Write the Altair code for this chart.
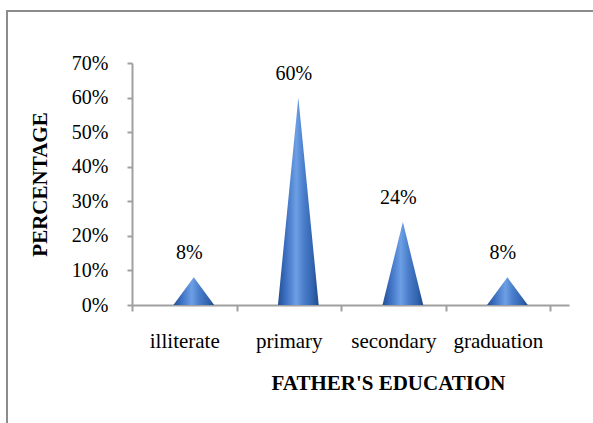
import altair as alt
import pandas as pd

# Father's education distribution
categories = ["illiterate", "primary", "secondary", "graduation"]
shares = [0.08, 0.60, 0.24, 0.08]

y_ticks = [0.0, 0.1, 0.2, 0.3, 0.4, 0.5, 0.6, 0.7]

# cone geometry in category units (one band = 1.0)
CONE_SHIFT = 0.091   # depth offset of the cone inside its band
CONE_HALF = 0.195    # half base width
LABEL_SHIFT = 0.048
X_MAX = 4.18         # axis line runs a little past the last band

cone_rows = []
for i, (cat, v) in enumerate(zip(categories, shares)):
    c = i + 0.5 + CONE_SHIFT
    cone_rows += [
        {"cat": cat, "x": c - CONE_HALF, "y": 0.0},
        {"cat": cat, "x": c, "y": v},
        {"cat": cat, "x": c + CONE_HALF, "y": 0.0},
    ]
cones = pd.DataFrame(cone_rows)

labels = pd.DataFrame({
    "cat": categories,
    "x": [i + 0.5 + LABEL_SHIFT for i in range(len(categories))],
    "share": shares,
})

FONT = "Liberation Serif"
GRAY = "#a0a0a0"

label_lookup = "[" + ",".join(f"'{c}'" for c in categories) + "]"

x_scale = alt.Scale(domain=[0, X_MAX], nice=False, zero=False)
y_scale = alt.Scale(domain=[0, 0.7], nice=False)

x_axis = alt.Axis(
    values=[k / 2 for k in range(0, 2 * len(categories) + 1)],
    labelExpr=f"datum.value % 1 == 0.5 ? {label_lookup}[floor(datum.value)] : ''",
    tickOpacity={"condition": {"test": "datum.value % 1 == 0", "value": 1}, "value": 0},
    grid=False,
    domainColor=GRAY, domainWidth=2,
    tickColor=GRAY, tickWidth=2, tickSize=6,
    labelFont=FONT, labelFontSize=21, labelColor="black",
    labelBaseline="alphabetic", labelPadding=36, labelFlush=False,
    labelOverlap=False,
    title="FATHER'S EDUCATION",
    titleFont=FONT, titleFontSize=21, titleFontWeight="bold", titleColor="black",
    titleX=256, titleY=84, titleAlign="center", titleBaseline="alphabetic",
)

y_axis = alt.Axis(
    values=y_ticks, format=".0%", grid=False,
    domainColor=GRAY, domainWidth=2,
    tickColor=GRAY, tickWidth=2, tickSize=5,
    labelFont=FONT, labelFontSize=20, labelColor="black", labelPadding=19,
    labelOverlap=False, labelFlush=False,
    title="PERCENTAGE",
    titleFont=FONT, titleFontSize=21, titleFontWeight="bold", titleColor="black",
    titleX=-92, titleY=121, titleAngle=270, titleAlign="center", titleBaseline="middle",
)

cone_fill = {
    "gradient": "linear", "x1": 0, "x2": 1, "y1": 0, "y2": 0,
    "stops": [
        {"offset": 0.0, "color": "#244f90"},
        {"offset": 0.18, "color": "#3b6ec0"},
        {"offset": 0.45, "color": "#6c9fe4"},
        {"offset": 0.62, "color": "#4c80cc"},
        {"offset": 0.85, "color": "#3264b0"},
        {"offset": 1.0, "color": "#224b88"},
    ],
}

cone_layer = alt.Chart(cones).mark_area(fill=cone_fill, fillOpacity=1).encode(
    x=alt.X("x:Q", scale=x_scale, axis=x_axis, title="FATHER'S EDUCATION"),
    y=alt.Y("y:Q", scale=y_scale, axis=y_axis, stack=None, title="PERCENTAGE"),
    detail="cat:N",
)

text_layer = alt.Chart(labels).mark_text(
    font=FONT, fontSize=20, color="black", baseline="alphabetic", align="center", dy=-18
).encode(
    x=alt.X("x:Q", scale=x_scale, axis=x_axis, title="FATHER'S EDUCATION"),
    y=alt.Y("share:Q", scale=y_scale, axis=y_axis, title="PERCENTAGE"),
    text=alt.Text("share:Q", format=".0%"),
)

# outer chart frame (left and top edges)
frame_left = alt.Chart(labels).mark_rule(color="#8c8c8c", strokeWidth=2).encode(
    x=alt.value(-125), y=alt.value(-52), y2=alt.value(380)
)
frame_top = alt.Chart(labels).mark_rule(color="#8c8c8c", strokeWidth=2).encode(
    x=alt.value(-126), x2=alt.value(480), y=alt.value(-52)
)

chart = alt.layer(frame_left, frame_top, cone_layer, text_layer).properties(
    width=437,
    height=242,
    autosize=alt.AutoSizeParams(type="none"),
    padding={"left": 132, "top": 63, "right": 24, "bottom": 118},
    background="white",
).configure_view(stroke=None)

chart.save("out.html", embed_options={"renderer": "svg", "actions": False})
